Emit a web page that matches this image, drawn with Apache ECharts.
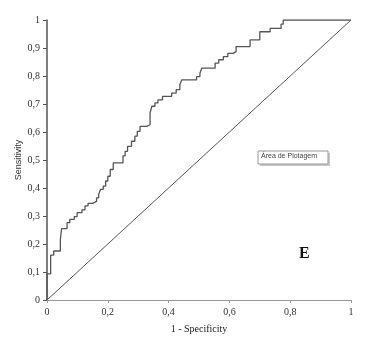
<!DOCTYPE html>
<html>
<head>
<meta charset="utf-8">
<script src="https://cdn.jsdelivr.net/npm/echarts@6/dist/echarts.min.js"></script>
<style>
  html, body { margin: 0; padding: 0; background: #fff; }
  #chart { width: 371px; height: 339px; }
</style>
</head>
<body>
<div id="chart"></div>
<script>
// ROC curve: false positive rate (1 - specificity) vs true positive rate (sensitivity).
// Each point is the corner where the curve starts to rise.
const fpr = [0, 0.012, 0.022, 0.044, 0.048, 0.066, 0.075, 0.09, 0.099, 0.115,
  0.125, 0.135, 0.15, 0.163, 0.17, 0.176, 0.185, 0.193, 0.2, 0.208,
  0.218, 0.25, 0.257, 0.265, 0.278, 0.289, 0.297, 0.306, 0.328, 0.339,
  0.345, 0.355, 0.365, 0.38, 0.41, 0.425, 0.437, 0.443, 0.492, 0.503,
  0.509, 0.553, 0.565, 0.58, 0.595, 0.612, 0.622, 0.668, 0.7, 0.734,
  0.77, 0.777, 1.0];
const tpr = [0, 0.093, 0.16, 0.175, 0.217, 0.255, 0.276, 0.288, 0.298, 0.312,
  0.322, 0.336, 0.345, 0.352, 0.365, 0.378, 0.395, 0.407, 0.425, 0.442,
  0.466, 0.49, 0.515, 0.531, 0.549, 0.567, 0.585, 0.602, 0.62, 0.626,
  0.668, 0.692, 0.704, 0.715, 0.727, 0.739, 0.751, 0.769, 0.786, 0.798,
  0.81, 0.828, 0.846, 0.858, 0.869, 0.881, 0.887, 0.905, 0.929, 0.958,
  0.97, 0.985, 1.0];
// Reference line of no discrimination
const diagX = [0, 1];
const diagY = [0, 1];

const xTickStep = 0.2;
const yTickStep = 0.1;
const panelLetter = 'E';
const tipText = 'Área de Plotagem';

const comma = v => String(Math.round(v * 10) / 10).replace('.', ',');

const chart = echarts.init(document.getElementById('chart'), null, { renderer: 'canvas' });
chart.setOption({
  animation: false,
  backgroundColor: '#ffffff',
  grid: { left: 47, right: 20, top: 20, bottom: 38, containLabel: false },
  xAxis: {
    type: 'value', min: 0, max: 1, interval: xTickStep,
    name: '1 - Specificity', nameLocation: 'middle', nameGap: 24,
    nameTextStyle: { fontFamily: 'Liberation Serif', fontSize: 10, color: '#222' },
    axisLine: { lineStyle: { color: '#999', width: 1 } },
    axisTick: { show: true, length: 3, lineStyle: { color: '#999' } },
    axisLabel: { formatter: comma, fontFamily: 'Liberation Serif', fontSize: 10, color: '#333', margin: 7 },
    splitLine: { show: false }
  },
  yAxis: {
    type: 'value', min: 0, max: 1, interval: yTickStep,
    name: 'Sensitivity', nameLocation: 'middle', nameGap: 24, nameRotate: 90,
    nameMoveOverlap: false,
    nameTextStyle: { fontFamily: 'Liberation Sans', fontSize: 9, color: '#333' },
    axisLine: { lineStyle: { color: '#555', width: 1.5 } },
    axisTick: { show: true, length: 4, lineStyle: { color: '#555' } },
    axisLabel: { formatter: comma, fontFamily: 'Liberation Serif', fontSize: 10, color: '#333', margin: 7 },
    splitLine: { show: false }
  },
  series: [
    {
      type: 'line', name: 'ROC', step: 'start', symbol: 'none',
      data: fpr.map((x, i) => [x, tpr[i]]),
      lineStyle: { color: '#555', width: 1.3 }
    },
    {
      type: 'line', name: 'Chance', symbol: 'none',
      data: diagX.map((x, i) => [x, diagY[i]]),
      lineStyle: { color: '#555', width: 1 }
    }
  ],
  graphic: [
    {
      type: 'text', left: 299, top: 246,
      style: { text: panelLetter, font: 'bold 16px "Liberation Serif"', fill: '#111' }
    },
    {
      type: 'rect', shape: { x: 260, y: 153, width: 70, height: 13 },
      style: { fill: '#c8c8c8' }
    },
    {
      type: 'rect', shape: { x: 258, y: 151, width: 70, height: 13 },
      style: { fill: '#fff', stroke: '#999', lineWidth: 1 }
    },
    {
      type: 'text', left: 261, top: 153,
      style: { text: tipText, font: '7px "Liberation Sans"', fill: '#444' }
    }
  ]
});
</script>
</body>
</html>
